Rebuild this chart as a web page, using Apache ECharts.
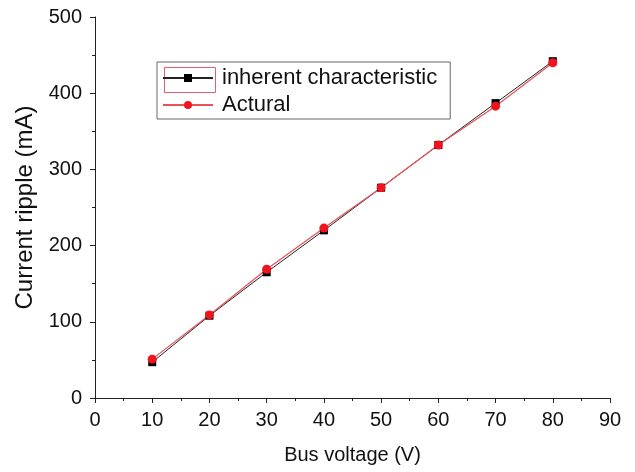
<!DOCTYPE html>
<html><head><meta charset="utf-8">
<script src="https://cdn.jsdelivr.net/npm/echarts@6/dist/echarts.min.js"></script>
<style>html,body{margin:0;padding:0;background:#fff}#c{width:635px;height:472px}</style>
</head><body><div id="c"></div>
<script>
var voltages = [10, 20, 30, 40, 50, 60, 70, 80];
var inherent = [47, 108, 165, 220, 276, 332, 387, 442];
var actual = [51, 109, 169, 223, 276, 332, 383, 440];
var seriesNames = ['inherent characteristic', 'Actural'];

var chart = echarts.init(document.getElementById('c'));
var font = 'Liberation Sans, Arial, sans-serif';
function pairs(v){ return voltages.map(function(x,i){return [x, v[i]];}); }
chart.setOption({
  animation: false,
  backgroundColor: '#fff',
  grid: {left: 95, right: 25, top: 17, bottom: 74},
  legend: {
    orient: 'vertical', left: 157, top: 62,
    padding: [5, 13, 3, 5],
    itemGap: 5,
    itemWidth: 50, itemHeight: 10,
    borderColor: '#666', borderWidth: 1,
    textStyle: {fontFamily: font, fontSize: 22, color: '#111', padding: [0, 0, 0, 4]},
    data: seriesNames
  },
  graphic: [{
    type: 'rect', left: 162, top: 65,
    shape: {width: 51, height: 25},
    style: {fill: 'none', stroke: '#e06070', lineWidth: 1}
  }],
  xAxis: {
    type: 'value', min: 0, max: 90, interval: 10,
    name: 'Bus voltage (V)', nameLocation: 'middle', nameGap: 47,
    nameTextStyle: {fontFamily: font, fontSize: 20, color: '#111'},
    axisLine: {lineStyle: {color: '#222', width: 1}},
    axisTick: {show: true, inside: false, length: 5, lineStyle: {color: '#222'}},
    minorTick: {show: true, splitNumber: 2, length: 3, lineStyle: {color: '#222'}},
    axisLabel: {fontFamily: font, fontSize: 20, color: '#111', margin: 12},
    splitLine: {show: false}
  },
  yAxis: {
    type: 'value', min: 0, max: 500, interval: 100,
    name: 'Current ripple (mA)', nameLocation: 'middle', nameGap: 56,
    nameTextStyle: {fontFamily: font, fontSize: 24, color: '#111'},
    axisLine: {show: true, onZero: false, lineStyle: {color: '#222', width: 1}},
    axisTick: {show: true, inside: false, length: 5, lineStyle: {color: '#222'}},
    minorTick: {show: true, splitNumber: 2, length: 3, lineStyle: {color: '#222'}},
    axisLabel: {fontFamily: font, fontSize: 20, color: '#111', margin: 13},
    splitLine: {show: false}
  },
  series: [
    {
      name: seriesNames[0], type: 'line', data: pairs(inherent),
      symbol: 'rect', symbolSize: 8,
      itemStyle: {color: '#000'},
      lineStyle: {color: '#222', width: 1}
    },
    {
      name: seriesNames[1], type: 'line', data: pairs(actual),
      symbol: 'circle', symbolSize: 9,
      itemStyle: {color: '#f0141e'},
      lineStyle: {color: '#e8505a', width: 1.2}
    }
  ]
});
</script></body></html>
